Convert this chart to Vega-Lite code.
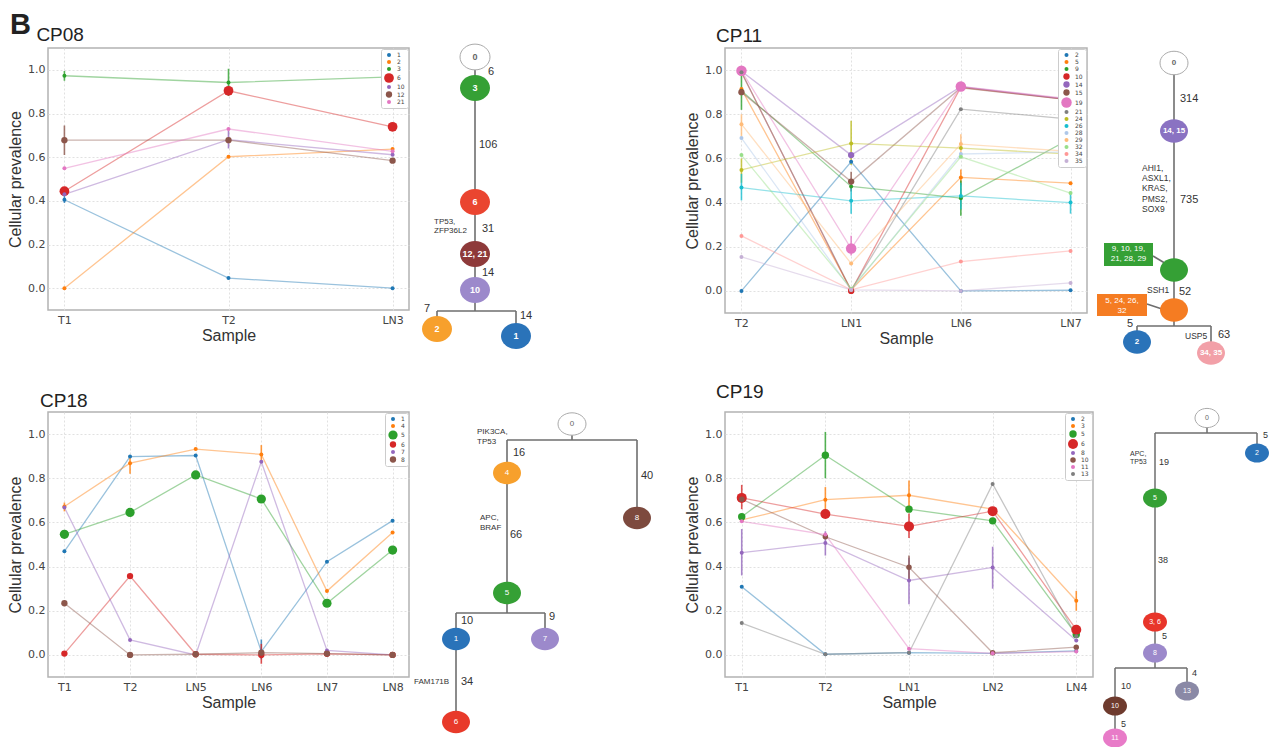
{
  "$schema": "https://vega.github.io/schema/vega-lite/v6.json",
  "padding": {"left": 6, "top": 10, "right": 0, "bottom": 0},
  "autosize": {"type": "pad"},
  "datasets": {
    "cp08": [
      {"clone": "1", "sample": "T1", "cp": 0.405, "lo": 0.39, "hi": 0.425},
      {"clone": "1", "sample": "T2", "cp": 0.046},
      {"clone": "1", "sample": "LN3", "cp": 0.0},
      {"clone": "2", "sample": "T1", "cp": 0.0},
      {"clone": "2", "sample": "T2", "cp": 0.602},
      {"clone": "2", "sample": "LN3", "cp": 0.637},
      {"clone": "3", "sample": "T1", "cp": 0.973, "lo": 0.95, "hi": 0.995},
      {"clone": "3", "sample": "T2", "cp": 0.942, "lo": 0.88, "hi": 1.005},
      {"clone": "3", "sample": "LN3", "cp": 0.968},
      {"clone": "6", "sample": "T1", "cp": 0.444},
      {"clone": "6", "sample": "T2", "cp": 0.904},
      {"clone": "6", "sample": "LN3", "cp": 0.739},
      {"clone": "10", "sample": "T1", "cp": 0.43},
      {"clone": "10", "sample": "T2", "cp": 0.68, "lo": 0.64, "hi": 0.72},
      {"clone": "10", "sample": "LN3", "cp": 0.611},
      {"clone": "12", "sample": "T1", "cp": 0.678, "lo": 0.61, "hi": 0.745},
      {"clone": "12", "sample": "T2", "cp": 0.678},
      {"clone": "12", "sample": "LN3", "cp": 0.584},
      {"clone": "21", "sample": "T1", "cp": 0.549},
      {"clone": "21", "sample": "T2", "cp": 0.729},
      {"clone": "21", "sample": "LN3", "cp": 0.627}
    ],
    "cp11": [
      {"clone": "2", "sample": "T2", "cp": 0.0},
      {"clone": "2", "sample": "LN1", "cp": 0.585},
      {"clone": "2", "sample": "LN6", "cp": 0.0},
      {"clone": "2", "sample": "LN7", "cp": 0.003},
      {"clone": "5", "sample": "T2", "cp": 0.914},
      {"clone": "5", "sample": "LN1", "cp": 0.005},
      {"clone": "5", "sample": "LN6", "cp": 0.514, "lo": 0.48, "hi": 0.55},
      {"clone": "5", "sample": "LN7", "cp": 0.488},
      {"clone": "9", "sample": "T2", "cp": 0.906, "lo": 0.82, "hi": 0.98},
      {"clone": "9", "sample": "LN1", "cp": 0.473},
      {"clone": "9", "sample": "LN6", "cp": 0.42, "lo": 0.34, "hi": 0.5},
      {"clone": "9", "sample": "LN7", "cp": 0.69},
      {"clone": "10", "sample": "T2", "cp": 0.99},
      {"clone": "10", "sample": "LN1", "cp": 0.0},
      {"clone": "10", "sample": "LN6", "cp": 0.922},
      {"clone": "10", "sample": "LN7", "cp": 0.865},
      {"clone": "14", "sample": "T2", "cp": 0.995},
      {"clone": "14", "sample": "LN1", "cp": 0.615},
      {"clone": "14", "sample": "LN6", "cp": 0.925},
      {"clone": "14", "sample": "LN7", "cp": 0.866},
      {"clone": "15", "sample": "T2", "cp": 0.9},
      {"clone": "15", "sample": "LN1", "cp": 0.495, "lo": 0.45, "hi": 0.54},
      {"clone": "15", "sample": "LN6", "cp": 0.92},
      {"clone": "15", "sample": "LN7", "cp": 0.865},
      {"clone": "19", "sample": "T2", "cp": 0.997},
      {"clone": "19", "sample": "LN1", "cp": 0.192, "lo": 0.16, "hi": 0.25},
      {"clone": "19", "sample": "LN6", "cp": 0.926},
      {"clone": "19", "sample": "LN7", "cp": 0.869},
      {"clone": "21", "sample": "T2", "cp": 0.99},
      {"clone": "21", "sample": "LN1", "cp": 0.003},
      {"clone": "21", "sample": "LN6", "cp": 0.823},
      {"clone": "21", "sample": "LN7", "cp": 0.778},
      {"clone": "24", "sample": "T2", "cp": 0.548, "lo": 0.49, "hi": 0.6},
      {"clone": "24", "sample": "LN1", "cp": 0.668, "lo": 0.57, "hi": 0.77},
      {"clone": "24", "sample": "LN6", "cp": 0.647},
      {"clone": "24", "sample": "LN7", "cp": 0.619},
      {"clone": "26", "sample": "T2", "cp": 0.468, "lo": 0.41, "hi": 0.53},
      {"clone": "26", "sample": "LN1", "cp": 0.408, "lo": 0.35, "hi": 0.47},
      {"clone": "26", "sample": "LN6", "cp": 0.43, "lo": 0.37, "hi": 0.49},
      {"clone": "26", "sample": "LN7", "cp": 0.4, "lo": 0.35, "hi": 0.45},
      {"clone": "28", "sample": "T2", "cp": 0.692},
      {"clone": "28", "sample": "LN1", "cp": 0.005},
      {"clone": "28", "sample": "LN6", "cp": 0.62},
      {"clone": "28", "sample": "LN7", "cp": 0.63},
      {"clone": "29", "sample": "T2", "cp": 0.755, "lo": 0.7, "hi": 0.8},
      {"clone": "29", "sample": "LN1", "cp": 0.124},
      {"clone": "29", "sample": "LN6", "cp": 0.665, "lo": 0.61, "hi": 0.71},
      {"clone": "29", "sample": "LN7", "cp": 0.632},
      {"clone": "32", "sample": "T2", "cp": 0.615},
      {"clone": "32", "sample": "LN1", "cp": 0.01},
      {"clone": "32", "sample": "LN6", "cp": 0.607},
      {"clone": "32", "sample": "LN7", "cp": 0.443},
      {"clone": "34", "sample": "T2", "cp": 0.249},
      {"clone": "34", "sample": "LN1", "cp": 0.005},
      {"clone": "34", "sample": "LN6", "cp": 0.133},
      {"clone": "34", "sample": "LN7", "cp": 0.181},
      {"clone": "35", "sample": "T2", "cp": 0.154},
      {"clone": "35", "sample": "LN1", "cp": 0.005},
      {"clone": "35", "sample": "LN6", "cp": 0.0},
      {"clone": "35", "sample": "LN7", "cp": 0.036}
    ],
    "cp18": [
      {"clone": "1", "sample": "T1", "cp": 0.469},
      {"clone": "1", "sample": "T2", "cp": 0.898},
      {"clone": "1", "sample": "LN5", "cp": 0.903},
      {"clone": "1", "sample": "LN6", "cp": 0.015, "lo": -0.02, "hi": 0.07},
      {"clone": "1", "sample": "LN7", "cp": 0.422},
      {"clone": "1", "sample": "LN8", "cp": 0.608},
      {"clone": "4", "sample": "T1", "cp": 0.672, "lo": 0.65, "hi": 0.69},
      {"clone": "4", "sample": "T2", "cp": 0.868, "lo": 0.82, "hi": 0.9},
      {"clone": "4", "sample": "LN5", "cp": 0.932},
      {"clone": "4", "sample": "LN6", "cp": 0.908, "lo": 0.87, "hi": 0.95},
      {"clone": "4", "sample": "LN7", "cp": 0.289},
      {"clone": "4", "sample": "LN8", "cp": 0.554},
      {"clone": "5", "sample": "T1", "cp": 0.546},
      {"clone": "5", "sample": "T2", "cp": 0.645},
      {"clone": "5", "sample": "LN5", "cp": 0.815},
      {"clone": "5", "sample": "LN6", "cp": 0.706},
      {"clone": "5", "sample": "LN7", "cp": 0.234},
      {"clone": "5", "sample": "LN8", "cp": 0.475},
      {"clone": "6", "sample": "T1", "cp": 0.006},
      {"clone": "6", "sample": "T2", "cp": 0.357},
      {"clone": "6", "sample": "LN5", "cp": 0.003},
      {"clone": "6", "sample": "LN6", "cp": 0.0, "lo": -0.04, "hi": 0.05},
      {"clone": "6", "sample": "LN7", "cp": 0.005},
      {"clone": "6", "sample": "LN8", "cp": 0.0},
      {"clone": "7", "sample": "T1", "cp": 0.668},
      {"clone": "7", "sample": "T2", "cp": 0.068},
      {"clone": "7", "sample": "LN5", "cp": 0.0},
      {"clone": "7", "sample": "LN6", "cp": 0.875},
      {"clone": "7", "sample": "LN7", "cp": 0.02},
      {"clone": "7", "sample": "LN8", "cp": 0.0},
      {"clone": "8", "sample": "T1", "cp": 0.234},
      {"clone": "8", "sample": "T2", "cp": 0.0},
      {"clone": "8", "sample": "LN5", "cp": 0.003},
      {"clone": "8", "sample": "LN6", "cp": 0.01},
      {"clone": "8", "sample": "LN7", "cp": 0.006},
      {"clone": "8", "sample": "LN8", "cp": 0.0}
    ],
    "cp19": [
      {"clone": "2", "sample": "T1", "cp": 0.309},
      {"clone": "2", "sample": "T2", "cp": 0.003},
      {"clone": "2", "sample": "LN1", "cp": 0.01},
      {"clone": "2", "sample": "LN2", "cp": 0.007},
      {"clone": "2", "sample": "LN4", "cp": 0.018},
      {"clone": "3", "sample": "T1", "cp": 0.611},
      {"clone": "3", "sample": "T2", "cp": 0.703, "lo": 0.64, "hi": 0.76},
      {"clone": "3", "sample": "LN1", "cp": 0.723, "lo": 0.65, "hi": 0.79},
      {"clone": "3", "sample": "LN2", "cp": 0.66},
      {"clone": "3", "sample": "LN4", "cp": 0.245, "lo": 0.2, "hi": 0.29},
      {"clone": "5", "sample": "T1", "cp": 0.626},
      {"clone": "5", "sample": "T2", "cp": 0.904, "lo": 0.8, "hi": 1.01},
      {"clone": "5", "sample": "LN1", "cp": 0.66},
      {"clone": "5", "sample": "LN2", "cp": 0.607},
      {"clone": "5", "sample": "LN4", "cp": 0.092},
      {"clone": "6", "sample": "T1", "cp": 0.711, "lo": 0.66, "hi": 0.77},
      {"clone": "6", "sample": "T2", "cp": 0.638},
      {"clone": "6", "sample": "LN1", "cp": 0.582, "lo": 0.53, "hi": 0.64},
      {"clone": "6", "sample": "LN2", "cp": 0.651},
      {"clone": "6", "sample": "LN4", "cp": 0.114},
      {"clone": "8", "sample": "T1", "cp": 0.463, "lo": 0.36, "hi": 0.57},
      {"clone": "8", "sample": "T2", "cp": 0.507, "lo": 0.45, "hi": 0.56},
      {"clone": "8", "sample": "LN1", "cp": 0.337, "lo": 0.23, "hi": 0.44},
      {"clone": "8", "sample": "LN2", "cp": 0.396, "lo": 0.3, "hi": 0.49},
      {"clone": "8", "sample": "LN4", "cp": 0.065},
      {"clone": "10", "sample": "T1", "cp": 0.705},
      {"clone": "10", "sample": "T2", "cp": 0.535},
      {"clone": "10", "sample": "LN1", "cp": 0.397, "lo": 0.34, "hi": 0.45},
      {"clone": "10", "sample": "LN2", "cp": 0.01},
      {"clone": "10", "sample": "LN4", "cp": 0.035},
      {"clone": "11", "sample": "T1", "cp": 0.605},
      {"clone": "11", "sample": "T2", "cp": 0.545},
      {"clone": "11", "sample": "LN1", "cp": 0.028},
      {"clone": "11", "sample": "LN2", "cp": 0.007},
      {"clone": "11", "sample": "LN4", "cp": 0.015},
      {"clone": "13", "sample": "T1", "cp": 0.144},
      {"clone": "13", "sample": "T2", "cp": 0.003},
      {"clone": "13", "sample": "LN1", "cp": 0.01},
      {"clone": "13", "sample": "LN2", "cp": 0.774},
      {"clone": "13", "sample": "LN4", "cp": 0.085}
    ],
    "tA_nodes": [
      {"node": "0", "x": 0, "y": 0},
      {"node": "3", "x": 0, "y": 3.1},
      {"node": "6", "x": 0, "y": 14.5},
      {"node": "12, 21", "x": 0, "y": 19.7},
      {"node": "10", "x": 0, "y": 23.3},
      {"node": "2", "x": -3.8, "y": 27.2},
      {"node": "1", "x": 4.1, "y": 27.9}
    ],
    "tA_edges": [
      {"x": 0, "y": 0, "x2": 0, "y2": 25.4},
      {"x": -3.8, "y": 25.4, "x2": 4.1, "y2": 25.4},
      {"x": -3.8, "y": 25.4, "x2": -3.8, "y2": 27.2},
      {"x": 4.1, "y": 25.4, "x2": 4.1, "y2": 27.9}
    ],
    "tA_labels": [
      {"text": "6", "kind": "count", "x": 1.3, "y": 1.5},
      {"text": "106", "kind": "count", "x": 0.4, "y": 8.8},
      {"text": "31", "kind": "count", "x": 0.7, "y": 17.2},
      {"text": "14", "kind": "count", "x": 0.7, "y": 21.6},
      {"text": "7", "kind": "count", "x": -5.1, "y": 25.2},
      {"text": "14", "kind": "count", "x": 4.5, "y": 25.9},
      {"text": "TP53,\nZFP36L2", "kind": "gene", "x": -4.1, "y": 16.5}
    ],
    "tB_nodes": [
      {"node": "0", "x": 0, "y": 0},
      {"node": "14, 15", "x": 0, "y": 6.8},
      {"node": "9, 10, 19, 21, 28, 29", "x": 0, "y": 20.7, "boxed": true},
      {"node": "5, 24, 26, 32", "x": 0, "y": 24.7, "boxed": true},
      {"node": "2", "x": -3.7, "y": 27.9},
      {"node": "34, 35", "x": 3.7, "y": 29.0}
    ],
    "tB_edges": [
      {"x": 0, "y": 0, "x2": 0, "y2": 26.3},
      {"x": -3.7, "y": 26.3, "x2": 3.7, "y2": 26.3},
      {"x": -3.7, "y": 26.3, "x2": -3.7, "y2": 27.9},
      {"x": 3.7, "y": 26.3, "x2": 3.7, "y2": 29.0},
      {"x": -2.1, "y": 19.3, "x2": -0.6, "y2": 20.2},
      {"x": -2.7, "y": 24.1, "x2": -0.9, "y2": 24.7}
    ],
    "tB_boxes": [
      {"node": "9, 10, 19, 21, 28, 29", "x": -7.0, "x2": -2.1, "y": 18.0, "y2": 20.3},
      {"node": "5, 24, 26, 32", "x": -7.7, "x2": -2.7, "y": 23.1, "y2": 25.3}
    ],
    "tB_boxtext": [
      {"text": "9, 10, 19,\n21, 28, 29", "x": -4.55, "y": 18.6},
      {"text": "5, 24, 26,\n32", "x": -5.2, "y": 23.75}
    ],
    "tB_labels": [
      {"text": "314", "kind": "count", "x": 0.6, "y": 3.6},
      {"text": "735", "kind": "count", "x": 0.6, "y": 13.7},
      {"text": "52", "kind": "count", "x": 0.5, "y": 22.9},
      {"text": "5", "kind": "count", "x": -4.7, "y": 26.1},
      {"text": "63", "kind": "count", "x": 4.4, "y": 27.2},
      {"text": "USP5", "kind": "gene", "x": 1.1, "y": 27.3},
      {"text": "SSH1", "kind": "gene", "x": -2.7, "y": 22.7},
      {"text": "AHI1,\nASXL1,\nKRAS,\nPMS2,\nSOX9", "kind": "gene", "x": -3.2, "y": 10.5}
    ],
    "tC_nodes": [
      {"node": "0", "x": 0, "y": 0},
      {"node": "4", "x": -6.5, "y": 4.9},
      {"node": "8", "x": 6.5, "y": 9.4},
      {"node": "5", "x": -6.5, "y": 16.9},
      {"node": "1", "x": -11.6, "y": 21.5},
      {"node": "7", "x": -2.7, "y": 21.5},
      {"node": "6", "x": -11.6, "y": 29.8}
    ],
    "tC_edges": [
      {"x": 0, "y": 0, "x2": 0, "y2": 1.6},
      {"x": -6.5, "y": 1.6, "x2": 6.5, "y2": 1.6},
      {"x": -6.5, "y": 1.6, "x2": -6.5, "y2": 18.9},
      {"x": 6.5, "y": 1.6, "x2": 6.5, "y2": 9.4},
      {"x": -11.6, "y": 18.9, "x2": -2.7, "y2": 18.9},
      {"x": -11.6, "y": 18.9, "x2": -11.6, "y2": 29.8},
      {"x": -2.7, "y": 18.9, "x2": -2.7, "y2": 21.5}
    ],
    "tC_labels": [
      {"text": "16", "kind": "count", "x": -5.9, "y": 2.9},
      {"text": "40", "kind": "count", "x": 6.9, "y": 5.2},
      {"text": "66", "kind": "count", "x": -6.2, "y": 11.1},
      {"text": "10", "kind": "count", "x": -11.1, "y": 19.7},
      {"text": "9", "kind": "count", "x": -2.3, "y": 19.3},
      {"text": "34", "kind": "count", "x": -11.1, "y": 25.8},
      {"text": "PIK3CA,\nTP53", "kind": "gene", "x": -9.5, "y": 0.8},
      {"text": "APC,\nBRAF", "kind": "gene", "x": -9.2, "y": 9.4},
      {"text": "FAM171B", "kind": "gene", "x": -15.8, "y": 25.8}
    ],
    "tD_nodes": [
      {"node": "0", "x": 0, "y": 0},
      {"node": "2", "x": 5.0, "y": 3.5},
      {"node": "5", "x": -5.2, "y": 8.0},
      {"node": "3, 6", "x": -5.2, "y": 20.4},
      {"node": "8", "x": -5.2, "y": 23.5},
      {"node": "13", "x": -2.0, "y": 27.3},
      {"node": "10", "x": -9.2, "y": 28.8},
      {"node": "11", "x": -9.2, "y": 32.0}
    ],
    "tD_edges": [
      {"x": 0, "y": 0, "x2": 0, "y2": 1.5},
      {"x": -5.2, "y": 1.5, "x2": 5.0, "y2": 1.5},
      {"x": 5.0, "y": 1.5, "x2": 5.0, "y2": 3.5},
      {"x": -5.2, "y": 1.5, "x2": -5.2, "y2": 25.0},
      {"x": -9.2, "y": 25.0, "x2": -2.0, "y2": 25.0},
      {"x": -9.2, "y": 25.0, "x2": -9.2, "y2": 32.0},
      {"x": -2.0, "y": 25.0, "x2": -2.0, "y2": 27.3}
    ],
    "tD_labels": [
      {"text": "5", "kind": "count", "x": 5.6, "y": 1.7},
      {"text": "19", "kind": "count", "x": -4.8, "y": 4.4},
      {"text": "38", "kind": "count", "x": -4.9, "y": 14.2},
      {"text": "5", "kind": "count", "x": -4.5, "y": 21.8},
      {"text": "4", "kind": "count", "x": -1.5, "y": 25.5},
      {"text": "10", "kind": "count", "x": -8.6, "y": 26.8},
      {"text": "5", "kind": "count", "x": -8.6, "y": 30.6},
      {"text": "APC,\nTP53", "kind": "gene", "x": -7.7, "y": 3.6}
    ]
  },
  "concat": [
    {
      "width": 361, "height": 262,
      "title": {"text": "B", "subtitle": "\u200b\u00a0\u00a0\u00a0\u00a0\u00a0CP08", "dx": -38, "offset": 3, "fontSize": 29, "fontWeight": "bold", "subtitleFontSize": 19, "subtitleFont": "Liberation Sans", "subtitleColor": "#222222", "subtitlePadding": -14},
      "data": {"name": "cp08"},
      "encoding": {
        "x": {"field": "sample", "type": "ordinal", "sort": ["T1", "T2", "LN3"], "scale": {"type": "point", "padding": 0.1}, "axis": {"title": "Sample"}},
        "y": {"field": "cp", "type": "quantitative", "scale": {"domain": [-0.1, 1.1], "nice": false, "zero": false}, "axis": {"title": "Cellular prevalence", "values": [0, 0.2, 0.4, 0.6, 0.8, 1], "format": ".1f"}}
      },
      "layer": [
        {"transform": [{"filter": "false"}], "mark": {"type": "circle", "opacity": 1},
         "encoding": {
           "color": {"field": "clone", "type": "nominal", "scale": {"domain": ["1", "2", "3", "6", "10", "12", "21"], "range": ["#1f77b4", "#ff7f0e", "#2ca02c", "#d62728", "#9467bd", "#8c564b", "#e377c2"]}, "legend": {"title": null, "orient": "top-right", "symbolType": "circle"}},
           "size": {"field": "clone", "type": "nominal", "scale": {"type": "ordinal", "domain": ["1", "2", "3", "6", "10", "12", "21"], "range": [16, 16, 16, 95, 16, 40, 16]}, "legend": {"title": null, "orient": "top-right", "symbolType": "circle"}}}},
        {"mark": {"type": "line", "strokeWidth": 1.3, "opacity": 0.45},
         "encoding": {"color": {"field": "clone", "type": "nominal", "scale": {"domain": ["1", "2", "3", "6", "10", "12", "21"], "range": ["#1f77b4", "#ff7f0e", "#2ca02c", "#d62728", "#9467bd", "#8c564b", "#e377c2"]}, "legend": null}}},
        {"transform": [{"filter": "isValid(datum.lo)"}], "mark": {"type": "rule", "strokeWidth": 1.6, "opacity": 0.8},
         "encoding": {"y": {"field": "lo", "type": "quantitative", "scale": {"domain": [-0.1, 1.1], "nice": false, "zero": false}, "axis": {"title": "Cellular prevalence", "values": [0, 0.2, 0.4, 0.6, 0.8, 1], "format": ".1f"}}, "y2": {"field": "hi"},
           "color": {"field": "clone", "type": "nominal", "scale": {"domain": ["1", "2", "3", "6", "10", "12", "21"], "range": ["#1f77b4", "#ff7f0e", "#2ca02c", "#d62728", "#9467bd", "#8c564b", "#e377c2"]}, "legend": null}}},
        {"mark": {"type": "circle", "opacity": 1},
         "encoding": {
           "color": {"field": "clone", "type": "nominal", "scale": {"domain": ["1", "2", "3", "6", "10", "12", "21"], "range": ["#1f77b4", "#ff7f0e", "#2ca02c", "#d62728", "#9467bd", "#8c564b", "#e377c2"]}, "legend": null},
           "size": {"field": "clone", "type": "nominal", "scale": {"type": "ordinal", "domain": ["1", "2", "3", "6", "10", "12", "21"], "range": [16, 16, 16, 95, 16, 40, 16]}, "legend": null}}}
      ]
    },
    {
      "width": 316, "height": 323, "view": {"stroke": null},
      "encoding": {
        "x": {"field": "x", "type": "quantitative", "scale": {"domain": [-6.6, 25.0], "nice": false, "zero": false}, "axis": null},
        "y": {"field": "y", "type": "quantitative", "scale": {"domain": [-0.9, 31.4], "nice": false, "zero": false, "reverse": true}, "axis": null}
      },
      "layer": [
        {"data": {"name": "tA_edges"}, "mark": {"type": "rule", "color": "#6e6e6e", "strokeWidth": 1.6}, "encoding": {"x2": {"field": "x2"}, "y2": {"field": "y2"}}},
        {"data": {"name": "tA_nodes"}, "mark": {"type": "point", "shape": "M-1,0A1,0.86 0 1,1 1,0A1,0.86 0 1,1 -1,0Z", "filled": true, "size": 900, "opacity": 1},
         "encoding": {"color": {"field": "node", "type": "nominal", "scale": {"domain": ["0", "3", "6", "12, 21", "10", "2", "1"], "range": ["#ffffff", "#35a035", "#ea4530", "#8e3a3a", "#9c89cb", "#f7a02c", "#2a73b9"]}, "legend": null}}},
        {"data": {"name": "tA_nodes"}, "transform": [{"filter": "datum.node === '0'"}], "mark": {"type": "point", "shape": "M-1,0A1,0.86 0 1,1 1,0A1,0.86 0 1,1 -1,0Z", "filled": false, "size": 900, "stroke": "#aaaaaa", "strokeWidth": 1, "opacity": 1}},
        {"data": {"name": "tA_nodes"}, "mark": {"type": "text", "fontSize": 9, "fontWeight": "bold", "baseline": "middle", "align": "center"},
         "encoding": {"text": {"field": "node"}, "color": {"condition": {"test": "datum.node === '0'", "value": "#666666"}, "value": "#ffffff"}}},
        {"data": {"name": "tA_labels"}, "transform": [{"filter": "datum.kind === 'count'"}], "mark": {"type": "text", "fontSize": 11, "align": "left", "baseline": "middle", "color": "#333333"}, "encoding": {"text": {"field": "text"}}},
        {"data": {"name": "tA_labels"}, "transform": [{"filter": "datum.kind === 'gene'"}], "mark": {"type": "text", "fontSize": 8, "align": "left", "baseline": "middle", "color": "#333333", "lineBreak": "\n", "lineHeight": 8.5}, "encoding": {"text": {"field": "text"}}}
      ]
    },
    {
      "width": 362, "height": 265,
      "title": {"text": "CP11", "dx": -9, "offset": 2},
      "data": {"name": "cp11"},
      "encoding": {
        "x": {"field": "sample", "type": "ordinal", "sort": ["T2", "LN1", "LN6", "LN7"], "scale": {"type": "point", "padding": 0.15}, "axis": {"title": "Sample"}},
        "y": {"field": "cp", "type": "quantitative", "scale": {"domain": [-0.1, 1.1], "nice": false, "zero": false}, "axis": {"title": "Cellular prevalence", "values": [0, 0.2, 0.4, 0.6, 0.8, 1], "format": ".1f"}}
      },
      "layer": [
        {"transform": [{"filter": "false"}], "mark": {"type": "circle", "opacity": 1},
         "encoding": {
           "color": {"field": "clone", "type": "nominal", "scale": {"domain": ["2", "5", "9", "10", "14", "15", "19", "21", "24", "26", "28", "29", "32", "34", "35"], "range": ["#1f77b4", "#ff7f0e", "#2ca02c", "#d62728", "#9467bd", "#8c564b", "#e377c2", "#7f7f7f", "#bcbd22", "#17becf", "#aec7e8", "#ffbb78", "#98df8a", "#ff9896", "#c5b0d5"]}, "legend": {"title": null, "orient": "top-right", "symbolType": "circle"}},
           "size": {"field": "clone", "type": "nominal", "scale": {"type": "ordinal", "domain": ["2", "5", "9", "10", "14", "15", "19", "21", "24", "26", "28", "29", "32", "34", "35"], "range": [16, 16, 16, 40, 40, 40, 110, 16, 16, 16, 16, 16, 16, 16, 16]}, "legend": {"title": null, "orient": "top-right", "symbolType": "circle"}}}},
        {"mark": {"type": "line", "strokeWidth": 1.3, "opacity": 0.45},
         "encoding": {"color": {"field": "clone", "type": "nominal", "scale": {"domain": ["2", "5", "9", "10", "14", "15", "19", "21", "24", "26", "28", "29", "32", "34", "35"], "range": ["#1f77b4", "#ff7f0e", "#2ca02c", "#d62728", "#9467bd", "#8c564b", "#e377c2", "#7f7f7f", "#bcbd22", "#17becf", "#aec7e8", "#ffbb78", "#98df8a", "#ff9896", "#c5b0d5"]}, "legend": null}}},
        {"transform": [{"filter": "isValid(datum.lo)"}], "mark": {"type": "rule", "strokeWidth": 1.6, "opacity": 0.8},
         "encoding": {"y": {"field": "lo", "type": "quantitative", "scale": {"domain": [-0.1, 1.1], "nice": false, "zero": false}, "axis": {"title": "Cellular prevalence", "values": [0, 0.2, 0.4, 0.6, 0.8, 1], "format": ".1f"}}, "y2": {"field": "hi"},
           "color": {"field": "clone", "type": "nominal", "scale": {"domain": ["2", "5", "9", "10", "14", "15", "19", "21", "24", "26", "28", "29", "32", "34", "35"], "range": ["#1f77b4", "#ff7f0e", "#2ca02c", "#d62728", "#9467bd", "#8c564b", "#e377c2", "#7f7f7f", "#bcbd22", "#17becf", "#aec7e8", "#ffbb78", "#98df8a", "#ff9896", "#c5b0d5"]}, "legend": null}}},
        {"mark": {"type": "circle", "opacity": 1},
         "encoding": {
           "color": {"field": "clone", "type": "nominal", "scale": {"domain": ["2", "5", "9", "10", "14", "15", "19", "21", "24", "26", "28", "29", "32", "34", "35"], "range": ["#1f77b4", "#ff7f0e", "#2ca02c", "#d62728", "#9467bd", "#8c564b", "#e377c2", "#7f7f7f", "#bcbd22", "#17becf", "#aec7e8", "#ffbb78", "#98df8a", "#ff9896", "#c5b0d5"]}, "legend": null},
           "size": {"field": "clone", "type": "nominal", "scale": {"type": "ordinal", "domain": ["2", "5", "9", "10", "14", "15", "19", "21", "24", "26", "28", "29", "32", "34", "35"], "range": [16, 16, 16, 40, 40, 40, 110, 16, 16, 16, 16, 16, 16, 16, 16]}, "legend": null}}}
      ]
    },
    {
      "width": 176, "height": 323, "view": {"stroke": null},
      "encoding": {
        "x": {"field": "x", "type": "quantitative", "scale": {"domain": [-8.1, 9.5], "nice": false, "zero": false}, "axis": null},
        "y": {"field": "y", "type": "quantitative", "scale": {"domain": [-1.5, 30.8], "nice": false, "zero": false, "reverse": true}, "axis": null}
      },
      "layer": [
        {"data": {"name": "tB_edges"}, "mark": {"type": "rule", "color": "#6e6e6e", "strokeWidth": 1.6}, "encoding": {"x2": {"field": "x2"}, "y2": {"field": "y2"}}},
        {"data": {"name": "tB_boxes"}, "mark": {"type": "rect", "opacity": 1}, "encoding": {"x2": {"field": "x2"}, "y2": {"field": "y2"},
          "color": {"field": "node", "type": "nominal", "scale": {"domain": ["0", "14, 15", "9, 10, 19, 21, 28, 29", "5, 24, 26, 32", "2", "34, 35"], "range": ["#ffffff", "#8a72c2", "#35a035", "#f57c22", "#2a73b9", "#f2a0a8"]}, "legend": null}}},
        {"data": {"name": "tB_nodes"}, "mark": {"type": "point", "shape": "M-1,0A1,0.84 0 1,1 1,0A1,0.84 0 1,1 -1,0Z", "filled": true, "size": 784, "opacity": 1},
         "encoding": {"color": {"field": "node", "type": "nominal", "scale": {"domain": ["0", "14, 15", "9, 10, 19, 21, 28, 29", "5, 24, 26, 32", "2", "34, 35"], "range": ["#ffffff", "#8a72c2", "#35a035", "#f57c22", "#2a73b9", "#f2a0a8"]}, "legend": null}}},
        {"data": {"name": "tB_nodes"}, "transform": [{"filter": "datum.node === '0'"}], "mark": {"type": "point", "shape": "M-1,0A1,0.84 0 1,1 1,0A1,0.84 0 1,1 -1,0Z", "filled": false, "size": 784, "stroke": "#aaaaaa", "strokeWidth": 1, "opacity": 1}},
        {"data": {"name": "tB_nodes"}, "transform": [{"filter": "datum.boxed !== true"}], "mark": {"type": "text", "fontSize": 8, "fontWeight": "bold", "baseline": "middle", "align": "center"},
         "encoding": {"text": {"field": "node"}, "color": {"condition": {"test": "datum.node === '0'", "value": "#666666"}, "value": "#ffffff"}}},
        {"data": {"name": "tB_boxtext"}, "mark": {"type": "text", "fontSize": 8, "baseline": "middle", "align": "center", "color": "#ffffff", "lineBreak": "\n", "lineHeight": 10}, "encoding": {"text": {"field": "text"}}},
        {"data": {"name": "tB_labels"}, "transform": [{"filter": "datum.kind === 'count'"}], "mark": {"type": "text", "fontSize": 11, "align": "left", "baseline": "middle", "color": "#333333"}, "encoding": {"text": {"field": "text"}}},
        {"data": {"name": "tB_labels"}, "transform": [{"filter": "datum.kind === 'gene'"}], "mark": {"type": "text", "fontSize": 8.5, "align": "left", "baseline": "middle", "color": "#333333", "lineBreak": "\n", "lineHeight": 10.2}, "encoding": {"text": {"field": "text"}}}
      ]
    },
    {
      "width": 361, "height": 265,
      "title": {"text": "CP18", "dx": -8, "offset": 1},
      "data": {"name": "cp18"},
      "encoding": {
        "x": {"field": "sample", "type": "ordinal", "sort": ["T1", "T2", "LN5", "LN6", "LN7", "LN8"], "scale": {"type": "point", "padding": 0.25}, "axis": {"title": "Sample"}},
        "y": {"field": "cp", "type": "quantitative", "scale": {"domain": [-0.1, 1.1], "nice": false, "zero": false}, "axis": {"title": "Cellular prevalence", "values": [0, 0.2, 0.4, 0.6, 0.8, 1], "format": ".1f"}}
      },
      "layer": [
        {"transform": [{"filter": "false"}], "mark": {"type": "circle", "opacity": 1},
         "encoding": {
           "color": {"field": "clone", "type": "nominal", "scale": {"domain": ["1", "4", "5", "6", "7", "8"], "range": ["#1f77b4", "#ff7f0e", "#2ca02c", "#d62728", "#9467bd", "#8c564b"]}, "legend": {"title": null, "orient": "top-right", "symbolType": "circle"}},
           "size": {"field": "clone", "type": "nominal", "scale": {"type": "ordinal", "domain": ["1", "4", "5", "6", "7", "8"], "range": [16, 16, 85, 40, 16, 40]}, "legend": {"title": null, "orient": "top-right", "symbolType": "circle"}}}},
        {"mark": {"type": "line", "strokeWidth": 1.3, "opacity": 0.45},
         "encoding": {"color": {"field": "clone", "type": "nominal", "scale": {"domain": ["1", "4", "5", "6", "7", "8"], "range": ["#1f77b4", "#ff7f0e", "#2ca02c", "#d62728", "#9467bd", "#8c564b"]}, "legend": null}}},
        {"transform": [{"filter": "isValid(datum.lo)"}], "mark": {"type": "rule", "strokeWidth": 1.6, "opacity": 0.8},
         "encoding": {"y": {"field": "lo", "type": "quantitative", "scale": {"domain": [-0.1, 1.1], "nice": false, "zero": false}, "axis": {"title": "Cellular prevalence", "values": [0, 0.2, 0.4, 0.6, 0.8, 1], "format": ".1f"}}, "y2": {"field": "hi"},
           "color": {"field": "clone", "type": "nominal", "scale": {"domain": ["1", "4", "5", "6", "7", "8"], "range": ["#1f77b4", "#ff7f0e", "#2ca02c", "#d62728", "#9467bd", "#8c564b"]}, "legend": null}}},
        {"mark": {"type": "circle", "opacity": 1},
         "encoding": {
           "color": {"field": "clone", "type": "nominal", "scale": {"domain": ["1", "4", "5", "6", "7", "8"], "range": ["#1f77b4", "#ff7f0e", "#2ca02c", "#d62728", "#9467bd", "#8c564b"]}, "legend": null},
           "size": {"field": "clone", "type": "nominal", "scale": {"type": "ordinal", "domain": ["1", "4", "5", "6", "7", "8"], "range": [16, 16, 85, 40, 16, 40]}, "legend": null}}}
      ]
    },
    {
      "width": 316, "height": 336, "view": {"stroke": null},
      "encoding": {
        "x": {"field": "x", "type": "quantitative", "scale": {"domain": [-16.3, 15.3], "nice": false, "zero": false}, "axis": null},
        "y": {"field": "y", "type": "quantitative", "scale": {"domain": [-1.2, 32.4], "nice": false, "zero": false, "reverse": true}, "axis": null}
      },
      "layer": [
        {"data": {"name": "tC_edges"}, "mark": {"type": "rule", "color": "#6e6e6e", "strokeWidth": 1.6}, "encoding": {"x2": {"field": "x2"}, "y2": {"field": "y2"}}},
        {"data": {"name": "tC_nodes"}, "mark": {"type": "point", "shape": "M-1,0A1,0.8 0 1,1 1,0A1,0.8 0 1,1 -1,0Z", "filled": true, "size": 784, "opacity": 1},
         "encoding": {"color": {"field": "node", "type": "nominal", "scale": {"domain": ["0", "4", "8", "5", "1", "7", "6"], "range": ["#ffffff", "#f7a02c", "#7d4a3e", "#35a035", "#2a73b9", "#9c89cb", "#e83a2a"]}, "legend": null}}},
        {"data": {"name": "tC_nodes"}, "transform": [{"filter": "datum.node === '0'"}], "mark": {"type": "point", "shape": "M-1,0A1,0.8 0 1,1 1,0A1,0.8 0 1,1 -1,0Z", "filled": false, "size": 784, "stroke": "#aaaaaa", "strokeWidth": 1, "opacity": 1}},
        {"data": {"name": "tC_nodes"}, "mark": {"type": "text", "fontSize": 8, "baseline": "middle", "align": "center"},
         "encoding": {"text": {"field": "node"}, "color": {"condition": {"test": "datum.node === '0'", "value": "#666666"}, "value": "#ffffff"}}},
        {"data": {"name": "tC_labels"}, "transform": [{"filter": "datum.kind === 'count'"}], "mark": {"type": "text", "fontSize": 11, "align": "left", "baseline": "middle", "color": "#333333"}, "encoding": {"text": {"field": "text"}}},
        {"data": {"name": "tC_labels"}, "transform": [{"filter": "datum.kind === 'gene'"}], "mark": {"type": "text", "fontSize": 8, "align": "left", "baseline": "middle", "color": "#333333", "lineBreak": "\n", "lineHeight": 9.5}, "encoding": {"text": {"field": "text"}}}
      ]
    },
    {
      "width": 368, "height": 265,
      "title": {"text": "CP19", "dx": -9, "offset": 10},
      "data": {"name": "cp19"},
      "encoding": {
        "x": {"field": "sample", "type": "ordinal", "sort": ["T1", "T2", "LN1", "LN2", "LN4"], "scale": {"type": "point", "padding": 0.2}, "axis": {"title": "Sample"}},
        "y": {"field": "cp", "type": "quantitative", "scale": {"domain": [-0.1, 1.1], "nice": false, "zero": false}, "axis": {"title": "Cellular prevalence", "values": [0, 0.2, 0.4, 0.6, 0.8, 1], "format": ".1f"}}
      },
      "layer": [
        {"transform": [{"filter": "false"}], "mark": {"type": "circle", "opacity": 1},
         "encoding": {
           "color": {"field": "clone", "type": "nominal", "scale": {"domain": ["2", "3", "5", "6", "8", "10", "11", "13"], "range": ["#1f77b4", "#ff7f0e", "#2ca02c", "#d62728", "#9467bd", "#8c564b", "#e377c2", "#7f7f7f"]}, "legend": {"title": null, "orient": "top-right", "symbolType": "circle"}},
           "size": {"field": "clone", "type": "nominal", "scale": {"type": "ordinal", "domain": ["2", "3", "5", "6", "8", "10", "11", "13"], "range": [16, 16, 55, 100, 16, 30, 16, 16]}, "legend": {"title": null, "orient": "top-right", "symbolType": "circle"}}}},
        {"mark": {"type": "line", "strokeWidth": 1.3, "opacity": 0.45},
         "encoding": {"color": {"field": "clone", "type": "nominal", "scale": {"domain": ["2", "3", "5", "6", "8", "10", "11", "13"], "range": ["#1f77b4", "#ff7f0e", "#2ca02c", "#d62728", "#9467bd", "#8c564b", "#e377c2", "#7f7f7f"]}, "legend": null}}},
        {"transform": [{"filter": "isValid(datum.lo)"}], "mark": {"type": "rule", "strokeWidth": 1.6, "opacity": 0.8},
         "encoding": {"y": {"field": "lo", "type": "quantitative", "scale": {"domain": [-0.1, 1.1], "nice": false, "zero": false}, "axis": {"title": "Cellular prevalence", "values": [0, 0.2, 0.4, 0.6, 0.8, 1], "format": ".1f"}}, "y2": {"field": "hi"},
           "color": {"field": "clone", "type": "nominal", "scale": {"domain": ["2", "3", "5", "6", "8", "10", "11", "13"], "range": ["#1f77b4", "#ff7f0e", "#2ca02c", "#d62728", "#9467bd", "#8c564b", "#e377c2", "#7f7f7f"]}, "legend": null}}},
        {"mark": {"type": "circle", "opacity": 1},
         "encoding": {
           "color": {"field": "clone", "type": "nominal", "scale": {"domain": ["2", "3", "5", "6", "8", "10", "11", "13"], "range": ["#1f77b4", "#ff7f0e", "#2ca02c", "#d62728", "#9467bd", "#8c564b", "#e377c2", "#7f7f7f"]}, "legend": null},
           "size": {"field": "clone", "type": "nominal", "scale": {"type": "ordinal", "domain": ["2", "3", "5", "6", "8", "10", "11", "13"], "range": [16, 16, 55, 100, 16, 30, 16, 16]}, "legend": null}}}
      ]
    },
    {
      "width": 176, "height": 336, "view": {"stroke": null},
      "encoding": {
        "x": {"field": "x", "type": "quantitative", "scale": {"domain": [-11.4, 6.2], "nice": false, "zero": false}, "axis": null},
        "y": {"field": "y", "type": "quantitative", "scale": {"domain": [-0.6, 33.0], "nice": false, "zero": false, "reverse": true}, "axis": null}
      },
      "layer": [
        {"data": {"name": "tD_edges"}, "mark": {"type": "rule", "color": "#6e6e6e", "strokeWidth": 1.5}, "encoding": {"x2": {"field": "x2"}, "y2": {"field": "y2"}}},
        {"data": {"name": "tD_nodes"}, "mark": {"type": "point", "shape": "M-1,0A1,0.8 0 1,1 1,0A1,0.8 0 1,1 -1,0Z", "filled": true, "size": 576, "opacity": 1},
         "encoding": {"color": {"field": "node", "type": "nominal", "scale": {"domain": ["0", "2", "5", "3, 6", "8", "13", "10", "11"], "range": ["#ffffff", "#2a73b9", "#35a035", "#e8352a", "#9c89cb", "#8a89a6", "#6e3b2e", "#e87bc8"]}, "legend": null}}},
        {"data": {"name": "tD_nodes"}, "transform": [{"filter": "datum.node === '0'"}], "mark": {"type": "point", "shape": "M-1,0A1,0.8 0 1,1 1,0A1,0.8 0 1,1 -1,0Z", "filled": false, "size": 576, "stroke": "#aaaaaa", "strokeWidth": 1, "opacity": 1}},
        {"data": {"name": "tD_nodes"}, "mark": {"type": "text", "fontSize": 7, "baseline": "middle", "align": "center"},
         "encoding": {"text": {"field": "node"}, "color": {"condition": {"test": "datum.node === '0'", "value": "#666666"}, "value": "#ffffff"}}},
        {"data": {"name": "tD_labels"}, "transform": [{"filter": "datum.kind === 'count'"}], "mark": {"type": "text", "fontSize": 9, "align": "left", "baseline": "middle", "color": "#333333"}, "encoding": {"text": {"field": "text"}}},
        {"data": {"name": "tD_labels"}, "transform": [{"filter": "datum.kind === 'gene'"}], "mark": {"type": "text", "fontSize": 7, "align": "left", "baseline": "middle", "color": "#333333", "lineBreak": "\n", "lineHeight": 8}, "encoding": {"text": {"field": "text"}}}
      ]
    }
  ],
  "columns": 4,
  "align": "each",
  "spacing": {"row": 41, "column": 0},
  "bounds": "flush",
  "resolve": {"scale": {"x": "independent", "y": "independent", "color": "independent", "size": "independent"}, "legend": {"color": "independent", "size": "independent"}},
  "config": {
    "font": "Liberation Sans",
    "view": {"stroke": "#b3b3b3", "strokeWidth": 1.5},
    "axis": {"grid": true, "gridColor": "#dedede", "gridDash": [2, 2], "gridWidth": 0.9, "ticks": false, "domain": false, "labelFont": "DejaVu Sans", "labelFontSize": 11, "labelColor": "#444444", "titleFont": "Liberation Sans", "titleFontSize": 16, "titleFontWeight": "normal", "titleColor": "#333333"},
    "axisX": {"labelAngle": 0, "labelPadding": 4, "titlePadding": 2},
    "axisY": {"labelPadding": 3, "titlePadding": 4},
    "legend": {"offset": 1, "labelFontSize": 6, "labelFont": "DejaVu Sans", "labelColor": "#444444", "padding": 3, "rowPadding": 1, "strokeColor": "#cccccc", "fillColor": "#ffffff", "symbolType": "circle", "symbolStrokeWidth": 0, "labelOffset": 3, "cornerRadius": 2},
    "title": {"font": "Liberation Sans", "fontWeight": "normal", "color": "#222222", "fontSize": 19, "anchor": "start", "frame": "group"}
  }
}
